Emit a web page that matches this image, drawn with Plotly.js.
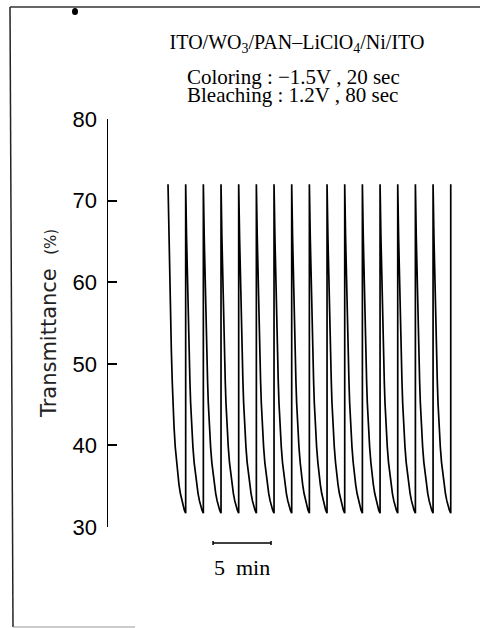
<!DOCTYPE html>
<html>
<head>
<meta charset="utf-8">
<script src="https://cdn.plot.ly/plotly-3.0.1.min.js"></script>
<style>html,body{margin:0;padding:0;background:#fff;}#chart{width:480px;height:628px;}</style>
</head>
<body>
<div id="chart"></div>
<script>
// ---- data ----
// one coloring/bleaching cycle: time offset (s) and transmittance (%)
const cycleTimeSec = [0, 5, 10, 15, 19, 24, 28, 34, 41, 48, 55, 62, 70, 78, 85, 92, 100];
const cycleTransPct = [72, 65.5, 60, 55, 51.5, 47.8, 45.2, 42.3, 39.8, 37.9, 36.4, 35.2, 34.1, 33.2, 32.6, 32.1, 31.7];
const cycleCount = 16;
const cyclePeriodSec = 100;
const finalTransPct = 72;
const yTickVals = [30, 40, 50, 60, 70, 80];
const yTickText = ["30", "40", "50", "60", "70", "80"];
const scaleBarStartSec = 255;
const scaleBarSpanSec = 328;
const scaleBarLabel = "5\u00A0\u00A0min";

// ---- build the trace ----
const xs = [], ys = [];
for (let k = 0; k < cycleCount; k++) {
  for (let j = 0; j < cycleTimeSec.length; j++) {
    xs.push(k * cyclePeriodSec + cycleTimeSec[j]);
    ys.push(cycleTransPct[j]);
  }
}
xs.push(cycleCount * cyclePeriodSec);
ys.push(finalTransPct);

// ---- layout helpers (pixel -> paper) ----
const L = 108, T = 119, PW = 362, PH = 408;
const px = v => (v - L) / PW;
const py = v => (T + PH - v) / PH;

const serif = "Liberation Serif, Times New Roman, serif";

const layout = {
  width: 480, height: 628,
  margin: {l: L, r: 480 - L - PW, t: T, b: 628 - T - PH, pad: 0},
  paper_bgcolor: "#fff", plot_bgcolor: "rgba(0,0,0,0)",
  showlegend: false,
  title: {
    text: "ITO/WO<sub>3</sub>/PAN\u2013LiClO<sub>4</sub>/Ni/ITO",
    font: {family: serif, size: 20, color: "#000"},
    x: 297 / 480, xanchor: "center", xref: "container",
    y: 1 - 42 / 628, yanchor: "middle", yref: "container"
  },
  xaxis: {
    visible: false,
    range: [-339.6, 1709],
    fixedrange: true
  },
  yaxis: {
    range: [30, 80],
    tickmode: "array",
    tickvals: yTickVals, ticktext: yTickText,
    ticks: "inside", ticklen: 9, tickwidth: 2, tickcolor: "#000",
    showline: true, linecolor: "#000", linewidth: 1.5,
    showgrid: false, zeroline: false,
    tickfont: {family: "Liberation Sans, Arial, sans-serif", size: 22, color: "#000"},
    ticklabelstandoff: 5,
    title: {
      text: "Transmittance\u00A0\u00A0<span style=\"font-size:15px\">(%)</span>",
      font: {family: "DejaVu Sans, sans-serif", size: 21, color: "#222"},
      standoff: 10
    }
  },
  shapes: [
    // scanned frame
    {type: "line", xref: "paper", yref: "paper", x0: px(10), x1: px(13), y0: py(7), y1: py(627), line: {color: "#222", width: 1.5}},
    {type: "line", xref: "paper", yref: "paper", x0: px(10), x1: px(480), y0: py(7), y1: py(7), line: {color: "#333", width: 1.5}},
    {type: "line", xref: "paper", yref: "paper", x0: px(13), x1: px(135), y0: py(627), y1: py(627), line: {color: "#999", width: 1}},
    {type: "circle", xref: "paper", yref: "paper", x0: px(72), x1: px(78), y0: py(15), y1: py(8), fillcolor: "#000", line: {width: 0}},
    // scale bar
    {type: "line", xref: "x", yref: "paper", x0: scaleBarStartSec, x1: scaleBarStartSec + scaleBarSpanSec, y0: py(543), y1: py(543), line: {color: "#000", width: 1.5}},
    {type: "line", xref: "x", yref: "paper", x0: scaleBarStartSec, x1: scaleBarStartSec, y0: py(541), y1: py(545), line: {color: "#000", width: 1.5}},
    {type: "line", xref: "x", yref: "paper", x0: scaleBarStartSec + scaleBarSpanSec, x1: scaleBarStartSec + scaleBarSpanSec, y0: py(541), y1: py(545), line: {color: "#000", width: 1.5}}
  ],
  annotations: [
    {text: "Coloring : \u22121.5V , 20 sec", xref: "paper", yref: "paper", x: px(185), y: py(77), xanchor: "left", yanchor: "middle", showarrow: false,
     font: {family: serif, size: 21, color: "#000"}},
    {text: "Bleaching : 1.2V , 80 sec", xref: "paper", yref: "paper", x: px(185), y: py(95), xanchor: "left", yanchor: "middle", showarrow: false,
     font: {family: serif, size: 21, color: "#000"}},
    {text: scaleBarLabel, xref: "x", yref: "paper", x: scaleBarStartSec + scaleBarSpanSec / 2, y: py(567), xanchor: "center", yanchor: "middle", showarrow: false,
     font: {family: serif, size: 22, color: "#000"}}
  ]
};

const trace = {
  type: "scatter", mode: "lines",
  x: xs, y: ys,
  line: {color: "#000", width: 1.7},
  hoverinfo: "skip"
};

Plotly.newPlot("chart", [trace], layout, {displayModeBar: false, staticPlot: true});
</script>
</body>
</html>
